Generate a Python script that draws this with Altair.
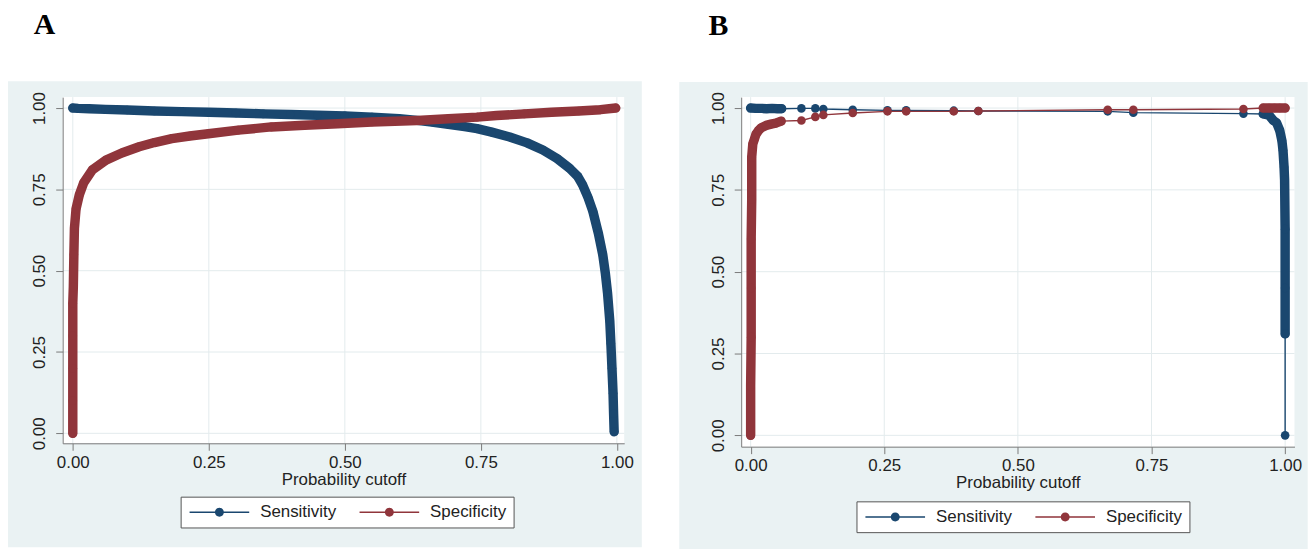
import altair as alt
import pandas as pd

FONT = "Liberation Sans"
SERIES = ["Sensitivity", "Specificity"]
COLORS = ["#1a476f", "#90353b"]
BG = "#eaf2f3"
GRID = "#e3ebed"
AXC = "#7a7a7a"
TICKS = [0.0, 0.25, 0.5, 0.75, 1.0]

# ---------------- Panel A ----------------
a_sens_x = [0.000, 0.010, 0.030, 0.060, 0.100, 0.150, 0.200, 0.250, 0.300, 0.350,
            0.400, 0.450, 0.500, 0.550, 0.600, 0.633, 0.660, 0.690, 0.720, 0.743,
            0.770, 0.803, 0.835, 0.864, 0.890, 0.913, 0.928, 0.937, 0.947, 0.956,
            0.966, 0.974, 0.979, 0.983, 0.987, 0.989, 0.991, 0.993, 0.994, 0.995]
a_sens_y = [1.000, 0.999, 0.998, 0.996, 0.994, 0.991, 0.989, 0.987, 0.985, 0.982,
            0.980, 0.978, 0.976, 0.972, 0.967, 0.962, 0.957, 0.950, 0.943, 0.937,
            0.926, 0.911, 0.893, 0.871, 0.845, 0.815, 0.790, 0.764, 0.725, 0.682,
            0.615, 0.550, 0.490, 0.429, 0.345, 0.276, 0.200, 0.123, 0.060, 0.005]
a_sens_dense = [1] * 40

a_spec_x = [0.000, 0.000, 0.000, 0.000, 0.000, 0.001, 0.002, 0.003, 0.006, 0.012,
            0.020, 0.036, 0.061, 0.090, 0.122, 0.150, 0.182, 0.215, 0.249, 0.304,
            0.365, 0.426, 0.487, 0.550, 0.633, 0.690, 0.743, 0.779, 0.830, 0.880,
            0.930, 0.970, 0.998]
a_spec_y = [0.000, 0.100, 0.200, 0.300, 0.400, 0.450, 0.550, 0.630, 0.690, 0.733,
            0.770, 0.810, 0.840, 0.862, 0.881, 0.894, 0.906, 0.914, 0.921, 0.932,
            0.942, 0.947, 0.952, 0.957, 0.962, 0.967, 0.972, 0.977, 0.982, 0.987,
            0.991, 0.995, 1.000]
a_spec_dense = [1] * 33

# ---------------- Panel B ----------------
b_sens_x = [0.000, 0.010, 0.020, 0.030, 0.040, 0.050, 0.058, 0.095, 0.121, 0.136,
            0.191, 0.256, 0.291, 0.380, 0.426, 0.668, 0.716, 0.922, 0.959, 0.970,
            0.978, 0.984, 0.990, 0.994, 0.996, 0.998, 0.999, 1.000, 1.000, 1.000,
            1.000]
b_sens_y = [1.000, 0.999, 0.999, 0.998, 0.999, 0.998, 0.998, 0.999, 0.999, 0.997,
            0.995, 0.993, 0.993, 0.992, 0.991, 0.990, 0.986, 0.983, 0.982, 0.978,
            0.962, 0.955, 0.931, 0.900, 0.871, 0.820, 0.780, 0.630, 0.450, 0.310,
            0.000]
b_sens_dense = [1] * 7 + [0] * 11 + [1] * 12 + [0]

b_spec_x = [0.000, 0.000, 0.001, 0.001, 0.001, 0.002, 0.002, 0.004, 0.007, 0.010,
            0.015, 0.020, 0.029, 0.038, 0.047, 0.057, 0.095, 0.121, 0.136, 0.191,
            0.256, 0.291, 0.380, 0.426, 0.668, 0.716, 0.922, 0.959, 0.970, 0.980,
            0.990, 1.000]
b_spec_y = [0.000, 0.150, 0.300, 0.450, 0.600, 0.720, 0.850, 0.890, 0.905, 0.920,
            0.932, 0.940, 0.947, 0.951, 0.954, 0.960, 0.962, 0.973, 0.979, 0.985,
            0.990, 0.990, 0.990, 0.991, 0.995, 0.995, 0.997, 1.000, 1.000, 1.000,
            1.000, 1.000]
b_spec_dense = [1] * 16 + [0] * 11 + [1] * 5


def rows(xs, ys, dense, name):
    out, grp, prev = [], 0, 0
    for k, (x, y, d) in enumerate(zip(xs, ys, dense)):
        if d and not prev:
            grp += 1
        out.append(dict(cutoff=x, value=y, series=name, i=k, dense=int(d), grp=grp if d else 0))
        prev = d
    return out


def panel(df, W, H, xdom, ydom, box, letter, lxy, legxy):
    sc_x = alt.Scale(domain=xdom, nice=False, zero=False)
    sc_y = alt.Scale(domain=ydom, nice=False, zero=False)
    cscale = alt.Scale(domain=SERIES, range=COLORS)
    xaxis = alt.Axis(values=TICKS, format=".2f", title="Probability cutoff", grid=False,
                     domainColor=AXC, tickColor=AXC, tickSize=7, domainWidth=1, tickWidth=1,
                     labelFont=FONT, labelFontSize=17, labelColor="#222222", labelPadding=4,
                     labelFlush=False, labelOverlap=False,
                     titleFont=FONT, titleFontSize=17, titleFontWeight="normal",
                     titleColor="#222222", titlePadding=1, zindex=1)
    yaxis = alt.Axis(values=TICKS, format=".2f", title=None, grid=False,
                     domainColor=AXC, tickColor=AXC, tickSize=7, domainWidth=1, tickWidth=1,
                     labelFont=FONT, labelFontSize=17, labelColor="#222222", labelPadding=7,
                     labelAngle=270, labelAlign="center", labelBaseline="bottom",
                     labelFlush=False, labelOverlap=False, zindex=1)
    sym = "M-6.667,-0.16L6.667,-0.16L6.667,0.16L-6.667,0.16Z M1,0A1,1,0,1,1,-1,0A1,1,0,1,1,1,0Z"
    leg = alt.Legend(title=None, orient="none", legendX=legxy[0], legendY=legxy[1],
                     direction="horizontal", symbolType=sym, symbolSize=81,
                     symbolStrokeWidth=0, symbolOffset=23.5, labelOffset=32.5,
                     labelFont=FONT, labelFontSize=17, labelColor="#222222",
                     columnPadding=21, padding=7, strokeColor="#555555", fillColor="white",
                     cornerRadius=0, zindex=2)
    one = alt.Data(values=[{"a": 1}])
    bg = alt.Chart(one).mark_rect(color=BG).encode(
        x=alt.value(box[0]), x2=alt.value(box[1]), y=alt.value(box[2]), y2=alt.value(box[3]))
    white = alt.Chart(one).mark_rect(color="white").encode(
        x=alt.value(0), x2=alt.value(W), y=alt.value(0), y2=alt.value(H))
    tdata = alt.Data(values=[{"t": t} for t in TICKS])
    gx = alt.Chart(tdata).mark_rule(color=GRID, strokeWidth=1).encode(
        x=alt.X("t:Q", scale=sc_x, axis=xaxis))
    gy = alt.Chart(tdata).mark_rule(color=GRID, strokeWidth=1).encode(
        y=alt.Y("t:Q", scale=sc_y, axis=yaxis))
    layers = [bg, white, gx, gy]
    for s in SERIES:
        base = alt.Chart(df).transform_filter(alt.datum.series == s)
        X = alt.X("cutoff:Q", scale=sc_x, axis=xaxis)
        Y = alt.Y("value:Q", scale=sc_y, axis=yaxis)
        C = alt.Color("series:N", scale=cscale, legend=leg)
        thin = base.mark_line(strokeWidth=1.4).encode(
            x=X, y=Y, order=alt.Order("i:Q"), color=C)
        thick = base.transform_filter(alt.datum.dense == 1).mark_line(
            strokeWidth=9.5, strokeCap="round", strokeJoin="round").encode(
            x=X, y=Y, order=alt.Order("i:Q"), detail="grp:N", color=C)
        pts = base.mark_circle(size=75, opacity=1).encode(x=X, y=Y, color=C)
        layers += [thin, thick, pts]
    title = alt.Chart(one).mark_text(
        text=letter, font="Liberation Serif", fontSize=30, fontWeight="bold",
        align="left", baseline="alphabetic", color="black").encode(
        x=alt.value(lxy[0]), y=alt.value(lxy[1]))
    layers.append(title)
    return alt.layer(*layers).properties(width=W, height=H)


dfa = pd.DataFrame(rows(a_sens_x, a_sens_y, a_sens_dense, "Sensitivity")
                   + rows(a_spec_x, a_spec_y, a_spec_dense, "Specificity"))
dfb = pd.DataFrame(rows(b_sens_x, b_sens_y, b_sens_dense, "Sensitivity")
                   + rows(b_spec_x, b_spec_y, b_spec_dense, "Specificity"))

pa = panel(dfa, 565, 348.3, [-0.0186, 1.0135], [-0.0306, 1.0336],
           (-55, 582.7, -16, 453), "A", (-29, -64), (118.7, 402))
pb = panel(dfb, 556.7, 351.7, [-0.0177, 1.0175], [-0.0346, 1.0334],
           (-62.3, 570, -15.3, 454.7), "B", (-33, -62.3), (116, 406.7))

chart = alt.hconcat(pa, pb, spacing=36.7).resolve_scale(
    color="independent").resolve_legend(color="independent").properties(
    padding=0, background="white"
).configure_view(strokeWidth=0)

chart.save("out.html", embed_options={"renderer": "svg", "actions": False})
